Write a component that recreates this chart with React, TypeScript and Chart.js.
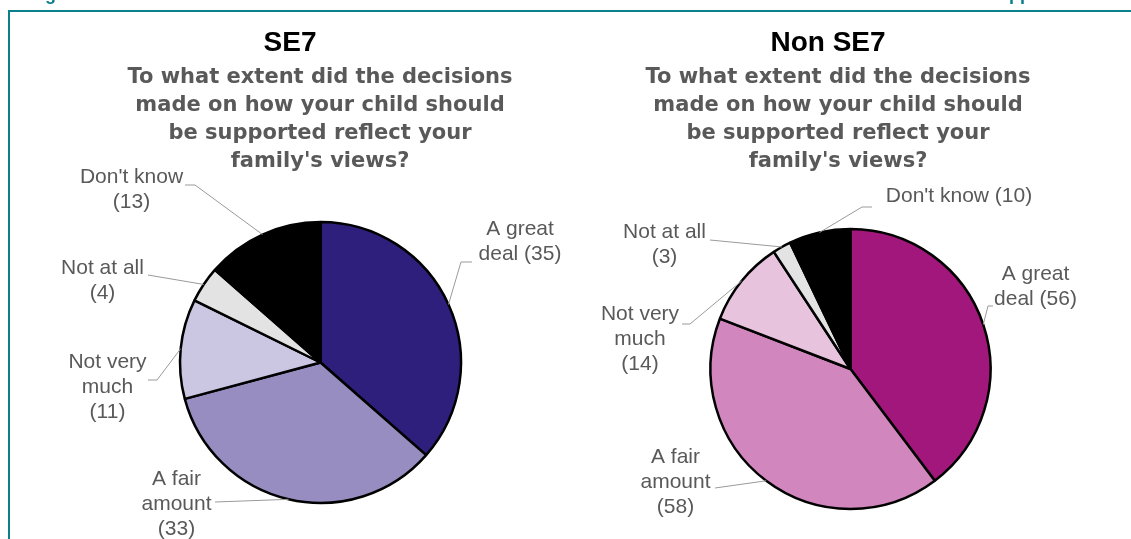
import React, { useEffect, useRef } from "react";
import { Chart, registerables } from "chart.js";

Chart.register(...registerables);

const W = 1131;
const H = 539;

const categories = ["A great deal", "A fair amount", "Not very much", "Not at all", "Don't know"];
const se7Values = [35, 33, 11, 4, 13];
const nonSe7Values = [56, 58, 14, 3, 10];
const se7Colors = ["#2e1f7d", "#988dc0", "#cbc6e1", "#e3e3e3", "#000000"];
const nonSe7Colors = ["#a2177b", "#d187bd", "#e8c3de", "#e3e3e3", "#000000"];
const se7Heading = "SE7";
const nonSe7Heading = "Non SE7";
const questionLines = [
  "To what extent did the decisions",
  "made on how your child should",
  "be supported reflect your",
  "family's views?",
];
const se7LabelLines = [
  ["A great", "deal ({v})"],
  ["A fair", "amount", "({v})"],
  ["Not very", "much", "({v})"],
  ["Not at all", "({v})"],
  ["Don't know", "({v})"],
];
const nonSe7LabelLines = [
  ["A great", "deal ({v})"],
  ["A fair", "amount", "({v})"],
  ["Not very", "much", "({v})"],
  ["Not at all", "({v})"],
  ["Don't know ({v})"],
];
// page heading text, cut off by the top edge of the frame
const cutHeadingLeft = "Fig";
const cutHeadingRight = "App";

type Pt = [number, number];
interface LabelPos { x: number; y: number; leader: Pt[] }
interface PanelLayout {
  cx: number; cy: number; r: number;
  headingX: number; headingY: number;
  questionX: number; questionY: number;
  labels: LabelPos[];
}

const se7Layout: PanelLayout = {
  cx: 320.5, cy: 362.5, r: 140.5,
  headingX: 290, headingY: 51,
  questionX: 320, questionY: 83,
  labels: [
    { x: 520, y: 235, leader: [[472, 262], [461, 262]] },
    { x: 176.5, y: 485, leader: [[215, 502]] },
    { x: 107.5, y: 368, leader: [[148, 380], [157, 380]] },
    { x: 102.5, y: 274, leader: [[148, 275]] },
    { x: 131.5, y: 183, leader: [[185, 185], [195, 185]] },
  ],
};

const nonSe7Layout: PanelLayout = {
  cx: 850.5, cy: 369, r: 140,
  headingX: 828, headingY: 51,
  questionX: 838, questionY: 83,
  labels: [
    { x: 1035.5, y: 280, leader: [[993, 306], [988, 306]] },
    { x: 675.5, y: 463, leader: [[715, 488]] },
    { x: 640, y: 320, leader: [[682, 324], [690, 324]] },
    { x: 664.5, y: 238, leader: [[710, 240]] },
    { x: 959, y: 202, leader: [[872, 207], [862, 207]] },
  ],
};

const LABEL_FONT = "21px 'Liberation Sans', Arial, sans-serif";
const QUESTION_FONT = "bold 21px 'DejaVu Sans', Verdana, sans-serif";
const HEADING_FONT = "bold 28px 'Liberation Sans', Arial, sans-serif";
const TEXT_GREY = "#595959";
const TEAL = "#0b7f8a";

function makePlugin(layout: PanelLayout, heading: string, labelLines: string[][], values: number[]) {
  return {
    id: "panelText",
    afterDraw(chart: any) {
      const ctx: CanvasRenderingContext2D = chart.ctx;
      ctx.save();
      ctx.textAlign = "center";
      ctx.textBaseline = "alphabetic";
      ctx.fillStyle = "#000000";
      ctx.font = HEADING_FONT;
      ctx.fillText(heading, layout.headingX, layout.headingY);
      ctx.fillStyle = TEXT_GREY;
      ctx.font = QUESTION_FONT;
      questionLines.forEach((l, i) => ctx.fillText(l, layout.questionX, layout.questionY + i * 28));

      const meta = chart.getDatasetMeta(0);
      meta.data.forEach((arc: any, i: number) => {
        const p = arc.getProps(["x", "y", "startAngle", "endAngle", "outerRadius"], true);
        const mid = (p.startAngle + p.endAngle) / 2;
        const ex = p.x + Math.cos(mid) * p.outerRadius;
        const ey = p.y + Math.sin(mid) * p.outerRadius;
        const lp = layout.labels[i];
        ctx.strokeStyle = "#9a9a9a";
        ctx.lineWidth = 1;
        ctx.beginPath();
        lp.leader.forEach((pt, k) => (k === 0 ? ctx.moveTo(pt[0], pt[1]) : ctx.lineTo(pt[0], pt[1])));
        ctx.lineTo(ex, ey);
        ctx.stroke();
        ctx.fillStyle = TEXT_GREY;
        ctx.font = LABEL_FONT;
        labelLines[i].forEach((t, k) => {
          ctx.fillText(t.replace("{v}", String(values[i])), lp.x, lp.y + k * 25);
        });
      });
      ctx.restore();
    },
  };
}

function PiePanel({ values, colors, layout, heading, labelLines }: any) {
  const ref = useRef<HTMLCanvasElement | null>(null);
  useEffect(() => {
    if (!ref.current) return;
    const half = 160;
    const chart = new Chart(ref.current, {
      type: "pie",
      data: {
        labels: categories,
        datasets: [
          {
            data: values,
            backgroundColor: colors,
            borderColor: "#000000",
            borderWidth: 2.5,
            radius: layout.r,
          } as any,
        ],
      },
      options: {
        responsive: false,
        animation: false,
        devicePixelRatio: 1,
        events: [],
        layout: {
          padding: {
            left: layout.cx - half,
            right: W - (layout.cx + half),
            top: layout.cy - half,
            bottom: H - (layout.cy + half),
          },
        },
        plugins: {
          legend: { display: false },
          tooltip: { enabled: false },
          title: { display: false },
        },
      } as any,
      plugins: [makePlugin(layout, heading, labelLines, values)],
    });
    return () => chart.destroy();
  }, []);
  return (
    <canvas
      ref={ref}
      width={W}
      height={H}
      style={{ position: "absolute", left: 0, top: 0, width: W, height: H }}
    />
  );
}

function FrameLayer() {
  const ref = useRef<HTMLCanvasElement | null>(null);
  useEffect(() => {
    const c = ref.current;
    if (!c) return;
    const ctx = c.getContext("2d");
    if (!ctx) return;
    ctx.clearRect(0, 0, W, H);
    ctx.fillStyle = TEAL;
    ctx.fillRect(8, 10, W - 8, 2);
    ctx.fillRect(8, 10, 2, H - 10);
    ctx.font = "bold 18px 'Liberation Sans', Arial, sans-serif";
    ctx.textAlign = "left";
    ctx.textBaseline = "alphabetic";
    ctx.fillText(cutHeadingLeft, 29, -0.5);
    ctx.fillText(cutHeadingRight, 996, -0.5);
  }, []);
  return (
    <canvas
      ref={ref}
      width={W}
      height={H}
      style={{ position: "absolute", left: 0, top: 0, width: W, height: H }}
    />
  );
}

export default function App() {
  useEffect(() => {
    document.body.style.margin = "0";
  }, []);
  return (
    <div style={{ position: "relative", width: W, height: H, overflow: "hidden", background: "#ffffff" }}>
      <FrameLayer />
      <PiePanel values={se7Values} colors={se7Colors} layout={se7Layout} heading={se7Heading} labelLines={se7LabelLines} />
      <PiePanel values={nonSe7Values} colors={nonSe7Colors} layout={nonSe7Layout} heading={nonSe7Heading} labelLines={nonSe7LabelLines} />
    </div>
  );
}
